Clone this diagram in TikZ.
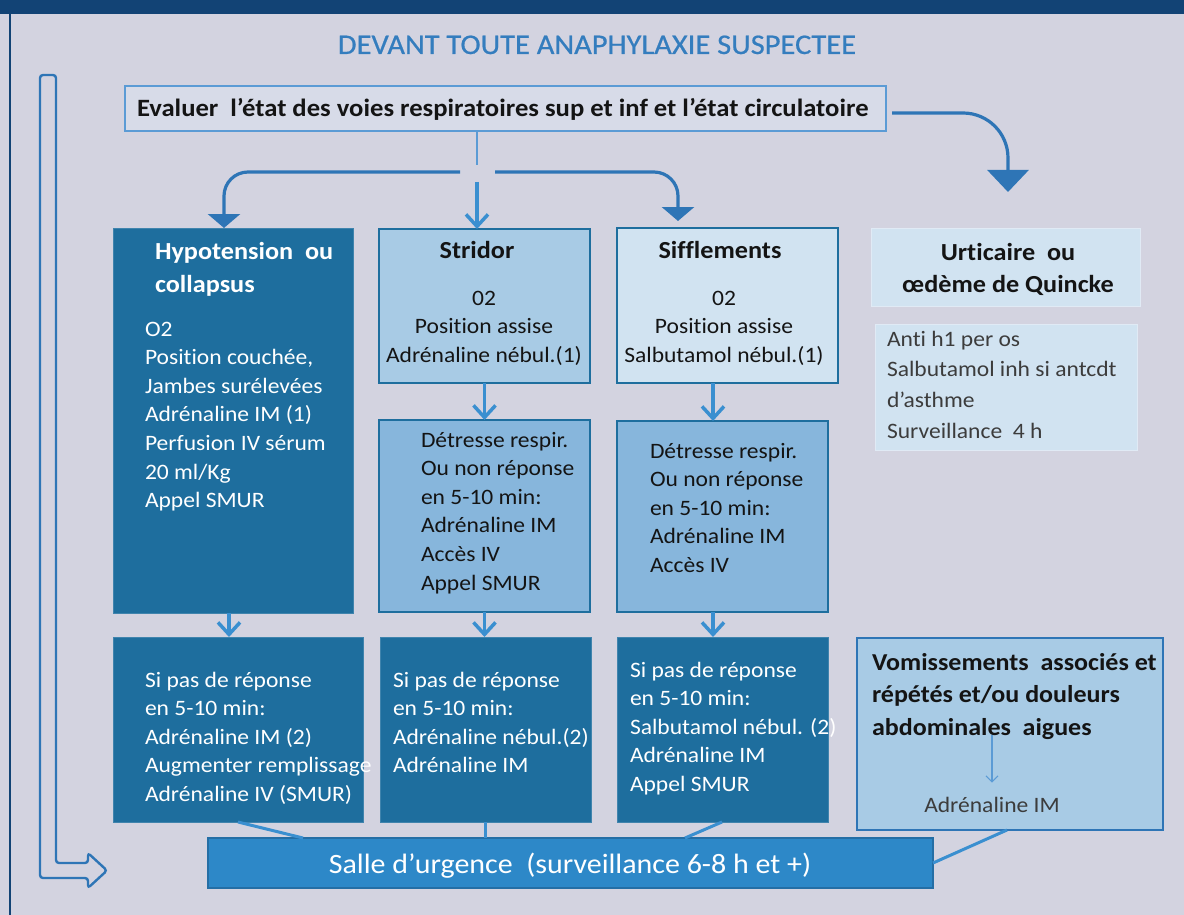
\documentclass[tikz,border=0pt]{standalone}
\usepackage{fontspec}
\setmainfont{Carlito}[FakeStretch=1.07, Ligatures=NoCommon]
\newfontfamily\headingfont{Carlito}[FakeStretch=1.07, FakeBold=0.6, Ligatures=NoCommon]
\usetikzlibrary{arrows.meta}

\definecolor{bg}{RGB}{211,211,224}
\definecolor{navy}{RGB}{18,67,117}
\definecolor{deep}{RGB}{30,110,158}
\definecolor{mid}{RGB}{46,117,182}
\definecolor{bright}{RGB}{58,143,208}
\definecolor{sallefill}{RGB}{45,136,200}
\definecolor{salleedge}{RGB}{36,110,165}
\definecolor{pale}{RGB}{209,227,241}
\definecolor{paleedge}{RGB}{224,234,245}
\definecolor{lightfill}{RGB}{168,203,229}
\definecolor{mediumfill}{RGB}{135,182,220}
\definecolor{sky}{RGB}{91,155,213}
\definecolor{evalfill}{RGB}{215,219,232}
\definecolor{ink}{RGB}{20,20,20}
\definecolor{graytext}{RGB}{60,60,60}
\definecolor{titleblue}{RGB}{52,125,190}

\tikzset{
  panel/.style={rectangle, anchor=north west, inner sep=0pt, outer sep=0pt},
  darkbox/.style={panel, fill=deep, draw=deep!85!white, line width=0.8pt},
  framed/.style={panel, draw=deep, line width=2.6pt},
  softbox/.style={panel, fill=pale, draw=paleedge, line width=1pt},
  txt/.style={inner sep=0pt, outer sep=0pt, align=left},
  body/.style={txt, font=\fontsize{22}{28.6}\selectfont},
  head/.style={txt, font=\bfseries\fontsize{24.5}{33}\selectfont},
  varrow/.style={draw=bright, line width=3.5pt, -{Straight Barb[length=12pt,width=22pt]}},
  tri/.style={draw=mid, line width=3.2pt, -{Triangle[length=14pt,width=32pt]}},
  bigtri/.style={draw=mid, line width=3.2pt, -{Triangle[length=22pt,width=41pt]}},
  link/.style={draw=bright, line width=3pt},
}

\begin{document}
\begin{tikzpicture}[x=1pt,y=-1pt]
\useasboundingbox (0,0) rectangle (1184,915);
\fill[bg] (0,0) rectangle (1184,915);
\fill[navy] (0,0) rectangle (1184,14);
\draw[navy, line width=2pt] (10,14) -- (10,915);

% heading
\node[txt, font=\headingfont\fontsize{28.5}{30}\selectfont, text=titleblue, anchor=base] (title) at (597,54) {DEVANT TOUTE ANAPHYLAXIE SUSPECTEE};

% assessment box
\node[panel, fill=evalfill, draw=sky, line width=1.3pt, minimum width=761, minimum height=45] (eval) at (125,86) {};
\node[txt, font=\bfseries\fontsize{24.9}{26}\selectfont, text=ink, anchor=base west] (evalTxt) at (137,116.5) {Evaluer\ \ l’état des voies respiratoires sup et inf et l’état circulatoire};

% hollow return arrow on the left
\draw[mid, line width=2.4pt, fill=bg, rounded corners=3pt]
  (40,75) -- (56,75) -- (56,863) -- (88,863) -- (88,853) -- (107,870.5) -- (88,888) -- (88,878) -- (40,878) -- cycle;

% first row
\node[darkbox, minimum width=240, minimum height=385] (hyp) at (113,228) {};
\node[framed, fill=lightfill, minimum width=211, minimum height=154] (strid) at (379,229) {};
\node[framed, fill=pale, minimum width=221, minimum height=155] (sif) at (617,228) {};
\node[softbox, minimum width=269, minimum height=78] (urt) at (871,228) {};
\node[softbox, minimum width=262, minimum height=126] (anti) at (875,324) {};

% second row
\node[framed, fill=mediumfill, minimum width=211, minimum height=192] (stridDet) at (379,420) {};
\node[framed, fill=mediumfill, minimum width=211, minimum height=191] (sifDet) at (617,421) {};

% third row
\node[darkbox, minimum width=250, minimum height=185] (hypBot) at (113,637) {};
\node[darkbox, minimum width=211, minimum height=185] (stridBot) at (380,637) {};
\node[darkbox, minimum width=211, minimum height=185] (sifBot) at (617,637) {};
\node[panel, fill=lightfill, draw=mid, line width=2.6pt, minimum width=306, minimum height=192] (vom) at (857,638) {};

% final destination
\node[panel, fill=sallefill, draw=salleedge, line width=2pt, minimum width=725, minimum height=50] (salle) at (208,838) {};
\node[txt, font=\fontsize{28}{30}\selectfont, text=white, anchor=base] (salleTxt) at (570,873) {Salle d’urgence\ \ (surveillance 6-8 h et +)};

% box texts (anchored on the baseline of their last line)
\node[head, text=white, anchor=base west] (hypHead) at (155,292) {Hypotension\ \ ou\\collapsus};
\node[body, text=white, anchor=base west] (hypBody) at (145,507.6) {O2\\Position couchée,\\Jambes surélevées\\Adrénaline IM (1)\\Perfusion IV sérum\\20 ml/Kg\\Appel SMUR};

\node[head, text=ink, anchor=base] (stridHead) at (477,258) {Stridor};
\node[body, text=ink, align=center, anchor=base] (stridBody) at (484,362.2) {02\\Position assise\\Adrénaline nébul.(1)};

\node[head, text=ink, anchor=base] (sifHead) at (720,258) {Sifflements};
\node[body, text=ink, align=center, anchor=base] (sifBody) at (724,362.2) {02\\Position assise\\Salbutamol nébul.(1)};

\node[txt, font=\bfseries\fontsize{24.5}{32}\selectfont, text=ink, align=center, anchor=base] (urtTxt) at (1008,292.5) {Urticaire\ \ ou\\œdème de Quincke};
\node[txt, font=\fontsize{22}{30.7}\selectfont, text=graytext, anchor=base west] (antiTxt) at (887,438.1) {Anti h1 per os\\Salbutamol inh si antcdt\\d’asthme\\Surveillance\ \ 4 h};

\node[body, text=ink, anchor=base west] (stridDetTxt) at (421,590) {Détresse respir.\\Ou non réponse\\en 5-10 min:\\Adrénaline IM\\Accès IV\\Appel SMUR};
\node[body, text=ink, anchor=base west] (sifDetTxt) at (650,572.4) {Détresse respir.\\Ou non réponse\\en 5-10 min:\\Adrénaline IM\\Accès IV};

\node[body, text=white, anchor=base west] (hypBotTxt) at (145,801.4) {Si pas de réponse\\en 5-10 min:\\Adrénaline IM (2)\\Augmenter remplissage\\Adrénaline IV (SMUR)};
\node[body, text=white, anchor=base west] (stridBotTxt) at (393,772.8) {Si pas de réponse\\en 5-10 min:\\Adrénaline nébul.(2)\\Adrénaline IM};
\node[body, text=white, anchor=base west] (sifBotTxt) at (630,791.4) {Si pas de réponse\\en 5-10 min:\\Salbutamol nébul. (2)\\Adrénaline IM\\Appel SMUR};

\node[txt, font=\bfseries\fontsize{24.3}{32.5}\selectfont, text=ink, anchor=base west] (vomTxt) at (872,735) {Vomissements\ \ associés et\\répétés et/ou douleurs\\abdominales\ \ aigues};
\node[body, text=graytext, anchor=base] (vomAd) at (992,812) {Adrénaline IM};

% branching from the assessment
\coordinate (fork) at (477,165);
\coordinate (forkL) at (460,172);
\coordinate (forkR) at (495,172);
\coordinate (forkM) at (477,182);
\coordinate (hypIn) at (224,228);
\coordinate (sifIn) at (678,221);
\coordinate (urtOut) at (892,113);
\coordinate (urtIn) at (1008,192);
\draw[sky, line width=1.5pt] (eval.south -| fork) -- (fork);
\draw[tri, rounded corners=24pt] (forkL) -| (hypIn);
\draw[tri, rounded corners=24pt] (forkR) -| (sifIn);
\draw[varrow] (forkM) -- (strid.north -| forkM);
\draw[bigtri, rounded corners=45pt] (urtOut) -| (urtIn);

% vertical steps
\coordinate (colH) at (229,0);
\coordinate (colS) at (713,0);
\draw[varrow] (strid.south) -- (stridDet.north -| strid.south);
\draw[varrow] (sif.south -| colS) -- (sifDet.north -| colS);
\draw[varrow] (hyp.south -| colH) -- (hypBot.north -| colH);
\draw[varrow] (stridDet.south) -- (stridBot.north -| stridDet.south);
\draw[varrow] (sifDet.south -| colS) -- (sifBot.north -| colS);

% arrow inside the digestive box
\coordinate (vomFork) at (992,735);
\draw[sky, line width=1.2pt, -{Straight Barb[length=6pt,width=12pt]}] (vomFork) -- ([yshift=14pt]vomAd.north);

% links to the emergency room
\coordinate (l1a) at (238,0);
\coordinate (l1b) at (303,0);
\coordinate (l3a) at (722,0);
\coordinate (l3b) at (685,0);
\coordinate (l4a) at (1007,0);
\draw[link] (hypBot.south -| l1a) -- (salle.north -| l1b);
\draw[link] (stridBot.south) -- (salle.north -| stridBot.south);
\draw[link] (sifBot.south -| l3a) -- (salle.north -| l3b);
\draw[link] (vom.south -| l4a) -- (salle.east);
\end{tikzpicture}
\end{document}
